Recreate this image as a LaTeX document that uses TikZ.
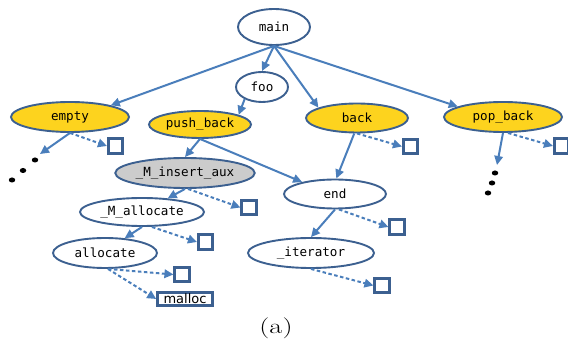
\documentclass[tikz,border=0pt]{standalone}
\usepackage{fontspec}
\newfontfamily\codefont{DejaVu Sans Mono}
\newfontfamily\labelfont{DejaVu Sans}
\usetikzlibrary{shapes.geometric,arrows.meta}
\definecolor{edgeblue}{HTML}{4A7EBB}
\definecolor{rimblue}{HTML}{3C6090}
\definecolor{fnyellow}{HTML}{FDD31E}
\definecolor{fngrey}{HTML}{CCCCCC}
\begin{document}
\begin{tikzpicture}[x=1pt,y=-1pt,
  fn/.style={ellipse, draw=rimblue, line width=1.9pt, inner sep=0pt, fill=white,
    font=\codefont\fontsize{12.6}{14}\selectfont},
  lib/.style={fn, fill=fnyellow},
  hot/.style={fn, fill=fngrey},
  sq/.style={draw=rimblue, line width=2.6pt, minimum size=14.5pt, inner sep=0pt},
  call/.style={draw=edgeblue, line width=2pt, -{Triangle[length=9pt,width=8.5pt]}},
  ext/.style={call, dash pattern=on 3.5pt off 2.5pt},
  dotmark/.style={ellipse, fill=black, minimum width=6.5pt, minimum height=5pt, inner sep=0pt}
]
\useasboundingbox (0,0) rectangle (568,344);

% call-graph functions
\node[fn,  minimum width=72pt,  minimum height=36pt] (main)   at (274,27)  {main};
\node[fn,  minimum width=52pt,  minimum height=30pt] (foo)    at (262,87)  {foo};
\node[lib, minimum width=118pt, minimum height=30pt] (empty)  at (70,117)  {empty};
\node[lib, minimum width=102pt, minimum height=27pt] (push)   at (200,124.5) {push\_back};
\node[lib, minimum width=102pt, minimum height=29pt] (back)   at (357,118) {back};
\node[lib, minimum width=118pt, minimum height=30pt] (pop)    at (503,117) {pop\_back};
\node[hot, minimum width=134pt, minimum height=30pt] (insert) at (185,173) {\_M\_insert\_aux};
\node[fn,  minimum width=124pt, minimum height=28pt] (mall)   at (142,212) {\_M\_allocate};
\node[fn,  minimum width=104pt, minimum height=30pt] (alloc)  at (105,253) {allocate};
\node[fn,  minimum width=102pt, minimum height=29pt] (end)    at (335,194) {end};
\node[fn,  minimum width=126pt, minimum height=30pt] (iter)   at (311,253) {\_iterator};

% external callees
\node[sq] (bEmpty)  at (115.5,146) {};
\node[sq] (bBack)   at (410.5,146.5) {};
\node[sq] (bPop)    at (561.5,146) {};
\node[sq] (bInsert) at (249,207.5) {};
\node[sq] (bMall)   at (205.5,242) {};
\node[sq] (bAlloc)  at (182,274.5) {};
\node[sq] (bEnd)    at (397,227) {};
\node[sq] (bIter)   at (382,285.5) {};
\node[sq, minimum width=55pt, minimum height=13.5pt, font=\labelfont\fontsize{13}{14}\selectfont]
  (malloc) at (185,299) {malloc};

% elided callees
\coordinate (eTip) at (40,154);
\coordinate (pTip) at (497,165);
\node[dotmark] (e1) at (35,160) {};
\node[dotmark] (e2) at (23,170.5) {};
\node[dotmark] (e3) at (12,180) {};
\node[dotmark] (p1) at (495,173) {};
\node[dotmark] (p2) at (492,183) {};
\node[dotmark] (p3) at (488,193) {};

% calls
\draw[call] (main.south) -- (empty.16);
\draw[call] (main.south) -- (foo.north);
\draw[call] (main.south) -- (back.165);
\draw[call] (main.south) -- (pop.167);
\draw[call] (foo.215) -- (push.14);
\draw[call] (push.south) -- (insert.north);
\draw[call] (push.south) -- (end.160);
\draw[call] (back.260) -- (end.85);
\draw[call] (empty.south) -- (eTip);
\draw[call] (pop.south) -- (pTip);
\draw[call] (insert.south) -- (mall.28);
\draw[call] (mall.south) -- (alloc.37);
\draw[call] (end.south) -- (iter.north);

\draw[ext] (empty.south) -- (bEmpty.west);
\draw[ext] (back.south) -- (bBack.west);
\draw[ext] ([xshift=5pt]pop.south) -- (bPop.west);
\draw[ext] ([xshift=3pt]insert.south) -- (bInsert.west);
\draw[ext] ([xshift=10pt]mall.south) -- (bMall.west);
\draw[ext] ([xshift=3pt]alloc.south) -- (bAlloc.west);
\draw[ext] ([xshift=3pt]alloc.south) -- (malloc.west);
\draw[ext] ([xshift=4pt]end.south) -- (bEnd.west);
\draw[ext] (iter.south) -- (bIter.west);

\node[font=\fontsize{21}{24}\selectfont] (cap) at (276,328) {\scalebox{1.35}[1]{(a)}};
\end{tikzpicture}
\end{document}
